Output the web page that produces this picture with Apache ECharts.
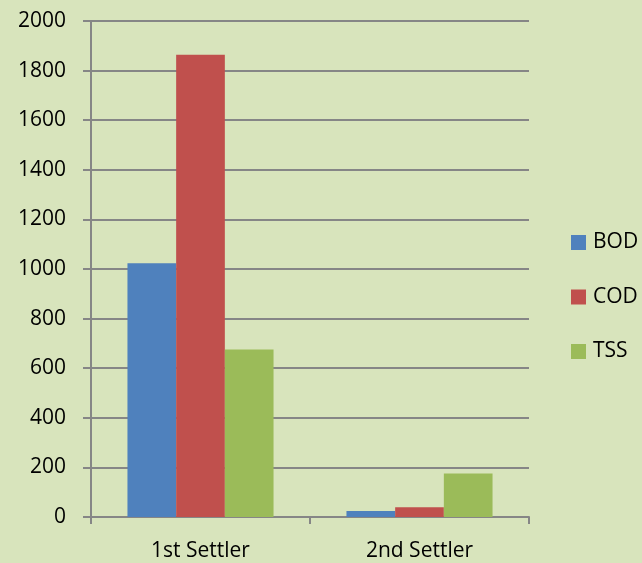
<!DOCTYPE html>
<html>
<head>
<meta charset="utf-8">
<script src="https://cdn.jsdelivr.net/npm/echarts@6/dist/echarts.min.js"></script>
<style>
html,body{margin:0;padding:0;background:#d8e4bc;}
#c{width:642px;height:563px;}
</style>
</head>
<body>
<div id="c"></div>
<script>
var categories = ['1st Settler', '2nd Settler'];
var seriesNames = ['BOD', 'COD', 'TSS'];
var bodValues = [1023, 24];
var codValues = [1864, 39];
var tssValues = [675, 175];
var yTicks = [0, 200, 400, 600, 800, 1000, 1200, 1400, 1600, 1800, 2000];

var colors = ['#4f81bd', '#c0504d', '#9bbb59'];
var values = [bodValues, codValues, tssValues];
var font = '"Open Sans", sans-serif';
var chart = echarts.init(document.getElementById('c'));
chart.setOption({
  backgroundColor: '#d8e4bc',
  animation: false,
  grid: { left: 91, right: 113, top: 21, bottom: 46, containLabel: false },
  legend: {
    orient: 'vertical',
    left: 571,
    top: 232,
    padding: 0,
    itemWidth: 15,
    itemHeight: 15,
    itemGap: 33.5,
    icon: 'rect',
    data: seriesNames,
    textStyle: { fontFamily: font, fontSize: 21, color: '#000', lineHeight: 15, padding: [0, 0, 0, 2] }
  },
  xAxis: {
    type: 'category',
    data: categories,
    axisLine: { lineStyle: { color: '#868686', width: 2 } },
    axisTick: { show: true, length: 7, inside: false, lineStyle: { color: '#868686', width: 2 } },
    axisLabel: { fontFamily: font, fontSize: 21, color: '#000', margin: 24 }
  },
  yAxis: {
    type: 'value',
    min: yTicks[0],
    max: yTicks[yTicks.length - 1],
    interval: yTicks[1] - yTicks[0],
    axisLine: { show: true, lineStyle: { color: '#868686', width: 2 } },
    axisTick: { show: true, length: 8, lineStyle: { color: '#868686', width: 2 } },
    splitLine: { lineStyle: { color: '#868686', width: 2 } },
    axisLabel: { fontFamily: font, fontSize: 21, color: '#000', margin: 25, formatter: function (v) { return String(v); } }
  },
  series: seriesNames.map(function (n, i) {
    return {
      name: n,
      type: 'bar',
      data: values[i],
      barGap: '0%',
      barCategoryGap: '33.3%',
      itemStyle: { color: colors[i] }
    };
  })
});
</script>
</body>
</html>
